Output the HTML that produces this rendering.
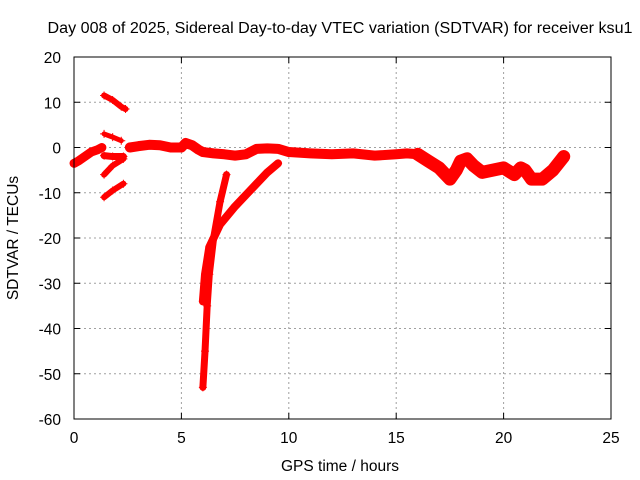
<!DOCTYPE html>
<html><head><meta charset="utf-8"><style>
body{margin:0;background:#fff;}
svg{display:block;font-family:"Liberation Sans",Arial,sans-serif;font-size:15.5px;}
</style></head><body>
<svg id="chart" width="640" height="480" viewBox="0 0 640 480"></svg>
<script>
const xTicks=[0,5,10,15,20,25];
const yTicks=[20,10,0,-10,-20,-30,-40,-50,-60];
const seriesA=[[0,-3.5],[0.2,-3],[0.5,-2],[0.8,-1],[1.1,-0.5],[1.3,0]];
const seriesB=[[1.4,11.5],[1.8,10.5],[2.2,9],[2.4,8.5]];
const seriesC=[[1.4,3],[1.8,2.3],[2.2,1.5]];
const seriesD=[[1.4,-1.8],[1.8,-2],[2.3,-2]];
const seriesE=[[1.4,-6],[1.8,-4],[2.3,-2.5]];
const seriesF=[[1.4,-11],[1.8,-9.5],[2.3,-8]];
const seriesMain=[[2.6,0],[3,0.3],[3.5,0.6],[4,0.5],[4.5,0],[5,0],[5.2,1],[5.5,0.5],[5.8,-0.5],[6,-1],[6.5,-1.3],[7,-1.5],[7.5,-1.8],[8,-1.5],[8.5,-0.3],[9,-0.2],[9.5,-0.3],[10,-1],[11,-1.3],[12,-1.5],[13,-1.3],[14,-1.8],[15,-1.5],[15.5,-1.3],[16,-1.5]];
const seriesLate=[[16,-1.5],[16.5,-3],[17,-4.5],[17.5,-7],[17.8,-5],[18,-3],[18.3,-2.5],[18.6,-4],[19,-5.5],[19.5,-5],[20,-4.5],[20.5,-6],[20.8,-4.5],[21,-5],[21.3,-7],[21.8,-7],[22.3,-5],[22.8,-2]];
const dive1=[[6,-53],[6.1,-45],[6.2,-35],[6.3,-28],[6.5,-20],[6.8,-12],[7.1,-6]];
const dive2=[[6,-34],[6.1,-28],[6.3,-22],[6.8,-17],[7.5,-13],[8.3,-9],[9,-5.5],[9.5,-3.5]];

const L=74,R=611,T=57,B=419;
const sx=v=>L+(v-0)/25*(R-L);
const sy=v=>T+(20-v)/80*(B-T);
const svg=document.getElementById('chart');
const NS='http://www.w3.org/2000/svg';
function mk(tag,attrs,parent){const e=document.createElementNS(NS,tag);for(const k in attrs)e.setAttribute(k,attrs[k]);(parent||svg).appendChild(e);return e;}

const grid=mk('g',{});


xTicks.forEach(t=>{
  if(t>0&&t<25){const g=mk('line',{x1:sx(t),x2:sx(t),y1:T,y2:B,stroke:'#a0a0a0','stroke-dasharray':'2,3'},grid);}
  const tk=mk('line',{x1:sx(t),x2:sx(t),y1:B,y2:B-6,stroke:'#000'});
  const tk2=mk('line',{x1:sx(t),x2:sx(t),y1:T,y2:T+6,stroke:'#000'});
  const tx=mk('text',{x:sx(t),y:B+24,'text-anchor':'middle'});tx.textContent=t;
});
yTicks.forEach(t=>{
  if(t<20&&t>-60){const g=mk('line',{x1:L,x2:R,y1:sy(t),y2:sy(t),stroke:'#a0a0a0','stroke-dasharray':'2,3'},grid);}
  const tk=mk('line',{x1:L,x2:L+6,y1:sy(t),y2:sy(t),stroke:'#000'});
  const tk2=mk('line',{x1:R,x2:R-6,y1:sy(t),y2:sy(t),stroke:'#000'});
  const tx=mk('text',{x:L-13,y:sy(t)+6,'text-anchor':'end'});tx.textContent=t;
});

const allSeries=[[seriesA,9],[seriesB,6],[seriesC,5],[seriesD,7],[seriesE,6],[seriesF,6],[seriesMain,10],[seriesLate,13],[dive1,7],[dive2,8]];
allSeries.forEach(([s,w])=>{
  const g=mk('g',{});
  
  
  const p=mk('polyline',{points:s.map(d=>sx(d[0])+','+sy(d[1])).join(' '),fill:'none',stroke:'#ff0000','stroke-width':w,'stroke-linejoin':'round','stroke-linecap':'round'},g);
  
  
  s.forEach(d=>{
    const m=mk('path',{d:`M${sx(d[0])-4},${sy(d[1])}h8M${sx(d[0])},${sy(d[1])-4}v8`,stroke:'#ff0000','stroke-width':1},g);
    
    
  });
});

const frame=mk('rect',{x:L,y:T,width:R-L,height:B-T,fill:'none',stroke:'#000'});


const title=mk('text',{x:340,y:33,'text-anchor':'middle',textLength:585,lengthAdjust:'spacingAndGlyphs'});
title.textContent='Day 008 of 2025, Sidereal Day-to-day VTEC variation (SDTVAR) for receiver ksu1';


const xt=mk('text',{x:340,y:471,'text-anchor':'middle'});
xt.textContent='GPS time / hours';


const yt=mk('text',{x:18,y:238,'text-anchor':'middle',transform:'rotate(-90 18 238)'});
yt.textContent='SDTVAR / TECUs';


</script>
</body></html>
